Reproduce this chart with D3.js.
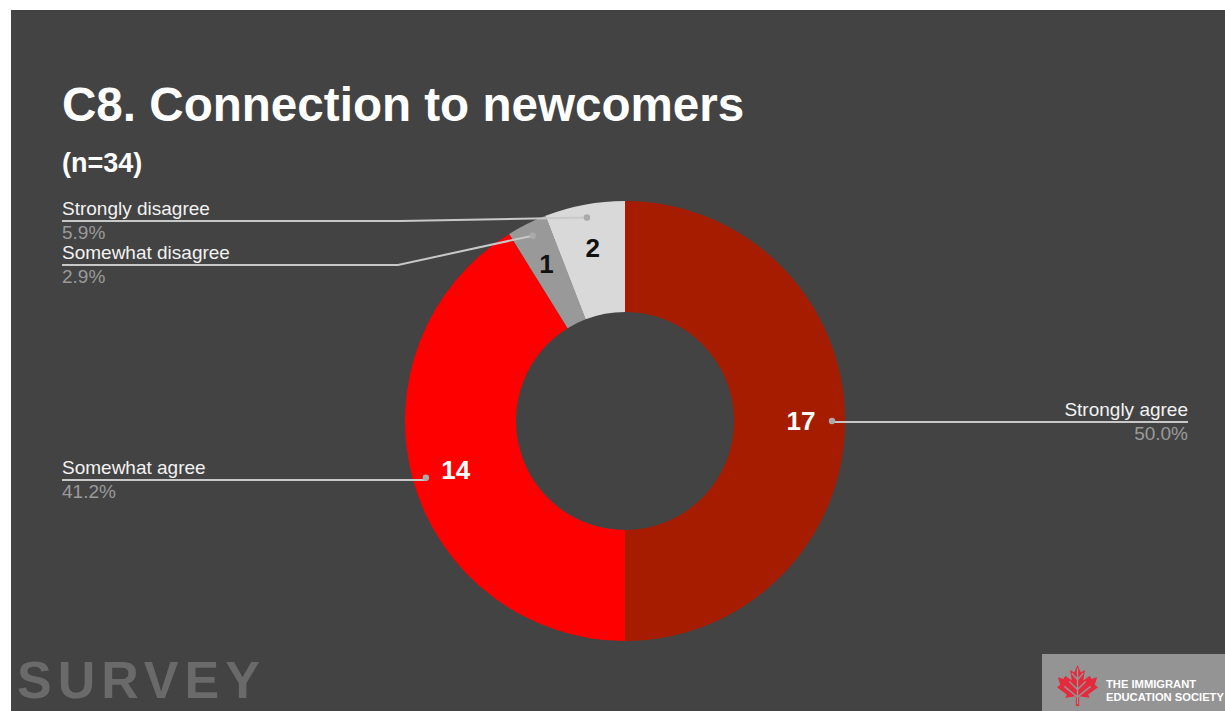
<!DOCTYPE html>
<html>
<head>
<meta charset="utf-8">
<script src="https://cdn.jsdelivr.net/npm/d3@7"></script>
<style>
  html, body { margin: 0; padding: 0; background: #ffffff; }
  svg { display: block; }
</style>
</head>
<body>
<svg id="chart" width="1225" height="711"></svg>
<script>
// Survey responses, question C8 (n=34)
const categories = ["Strongly agree", "Somewhat agree", "Somewhat disagree", "Strongly disagree"];
const counts = [17, 14, 1, 2];
const sliceColors = ["#a61c00", "#ff0000", "#999999", "#d9d9d9"];
const countLabelColors = ["#ffffff", "#ffffff", "#111111", "#111111"];

const titleText = "C8. Connection to newcomers";
const subtitleText = "(n=34)";

const total = d3.sum(counts);
const rows = categories.map((c, i) => ({ name: c, value: counts[i], color: sliceColors[i], ink: countLabelColors[i] }));

const svg = d3.select("#chart");
const W = 1225, H = 711;
const font = "'Liberation Sans', Arial, Helvetica, sans-serif";

// slide background
svg.append("rect").attr("x", 11).attr("y", 10).attr("width", W - 11).attr("height", H - 10).attr("fill", "#434343");

// title block
svg.append("text").attr("x", 62).attr("y", 121)
  .attr("font-family", font).attr("font-weight", "bold").attr("font-size", 47.6)
  .attr("fill", "#ffffff").text(titleText);
svg.append("text").attr("x", 62).attr("y", 172)
  .attr("font-family", font).attr("font-weight", "bold").attr("font-size", 27)
  .attr("fill", "#ffffff").text(subtitleText);

// donut
const cx = 625, cy = 421, rOuter = 220, rInner = 109;
const pie = d3.pie().sort(null).value(d => d.value).startAngle(0).endAngle(2 * Math.PI);
const arcs = pie(rows);
const arc = d3.arc().innerRadius(rInner).outerRadius(rOuter);
const labelArc = d3.arc().innerRadius(176).outerRadius(176);
const dotArc = d3.arc().innerRadius(207).outerRadius(207);

const g = svg.append("g").attr("transform", `translate(${cx},${cy})`);
g.selectAll("path.slice").data(arcs).join("path")
  .attr("class", "slice").attr("d", arc).attr("fill", d => d.data.color);

g.selectAll("text.count").data(arcs).join("text")
  .attr("class", "count")
  .attr("transform", d => `translate(${labelArc.centroid(d)})`)
  .attr("text-anchor", "middle").attr("dy", "0.36em")
  .attr("font-family", font).attr("font-weight", "bold").attr("font-size", 26)
  .attr("fill", d => d.data.ink).text(d => d.data.value);

// leader lines and outside labels
const fmtPct = v => (v / total * 100).toFixed(1) + "%";
const legendLayout = {
  "Strongly agree":    { side: "right", lineY: 422, edge: 1188 },
  "Somewhat agree":    { side: "left",  lineY: 480, edge: 62 },
  "Somewhat disagree": { side: "left",  lineY: 265, edge: 62, bendX: 398 },
  "Strongly disagree": { side: "left",  lineY: 221, edge: 62, bendX: 400 }
};

const ann = svg.append("g");
arcs.forEach(d => {
  const L = legendLayout[d.data.name];
  const [dx, dy] = dotArc.centroid(d);
  const px = cx + dx, py = cy + dy;
  const pts = [[px, py]];
  if (L.bendX !== undefined) pts.push([L.bendX, L.lineY]);
  else pts.push([px, L.lineY]);
  pts.push([L.edge, L.lineY]);
  ann.append("path").attr("d", d3.line()(pts))
    .attr("fill", "none").attr("stroke", "#c8c8c8").attr("stroke-width", 2);
  ann.append("circle").attr("cx", px).attr("cy", py).attr("r", 3.2).attr("fill", "#aaaaaa");
  const anchor = L.side === "right" ? "end" : "start";
  ann.append("text").attr("x", L.edge).attr("y", L.lineY - 6)
    .attr("text-anchor", anchor).attr("font-family", font).attr("font-size", 19)
    .attr("fill", "#f2f2f2").text(d.data.name);
  ann.append("text").attr("x", L.edge).attr("y", L.lineY + 18)
    .attr("text-anchor", anchor).attr("font-family", font).attr("font-size", 19)
    .attr("fill", "#9a9a9a").text(fmtPct(d.data.value));
});

// footer watermark
svg.append("text").attr("x", 17).attr("y", 698)
  .attr("font-family", font).attr("font-weight", "bold").attr("font-size", 52)
  .attr("letter-spacing", 6)
  .attr("fill", "#6a6a6a").text("SURVEY");

// society logo badge
const logo = svg.append("g");
logo.append("rect").attr("x", 1042).attr("y", 654).attr("width", W - 1042).attr("height", H - 654).attr("fill", "#949494");
const leaf = logo.append("g").attr("transform", "translate(1057,665) scale(0.41)");
leaf.append("path")
  .attr("d", "M50,0 L58,18 L68,12 L64,38 L80,26 L84,34 L98,30 L92,48 L100,54 L76,72 L80,80 L54,76 L54,100 L46,100 L46,76 L20,80 L24,72 L0,54 L8,48 L2,30 L16,34 L20,26 L36,38 L32,12 L42,18 Z")
  .attr("fill", "#e42a3c");
leaf.append("path")
  .attr("d", "M50,8 L50,96 M30,40 L50,60 L70,40 M18,52 L50,78 L82,52 M36,20 L50,36 L64,20")
  .attr("fill", "none").attr("stroke", "#949494").attr("stroke-width", 3.5);
logo.append("text").attr("x", 1106).attr("y", 688)
  .attr("font-family", font).attr("font-weight", "bold").attr("font-size", 11.2)
  .attr("fill", "#ffffff").text("THE IMMIGRANT");
logo.append("text").attr("x", 1106).attr("y", 701)
  .attr("font-family", font).attr("font-weight", "bold").attr("font-size", 11.2)
  .attr("fill", "#ffffff").text("EDUCATION SOCIETY");
</script>
</body>
</html>
